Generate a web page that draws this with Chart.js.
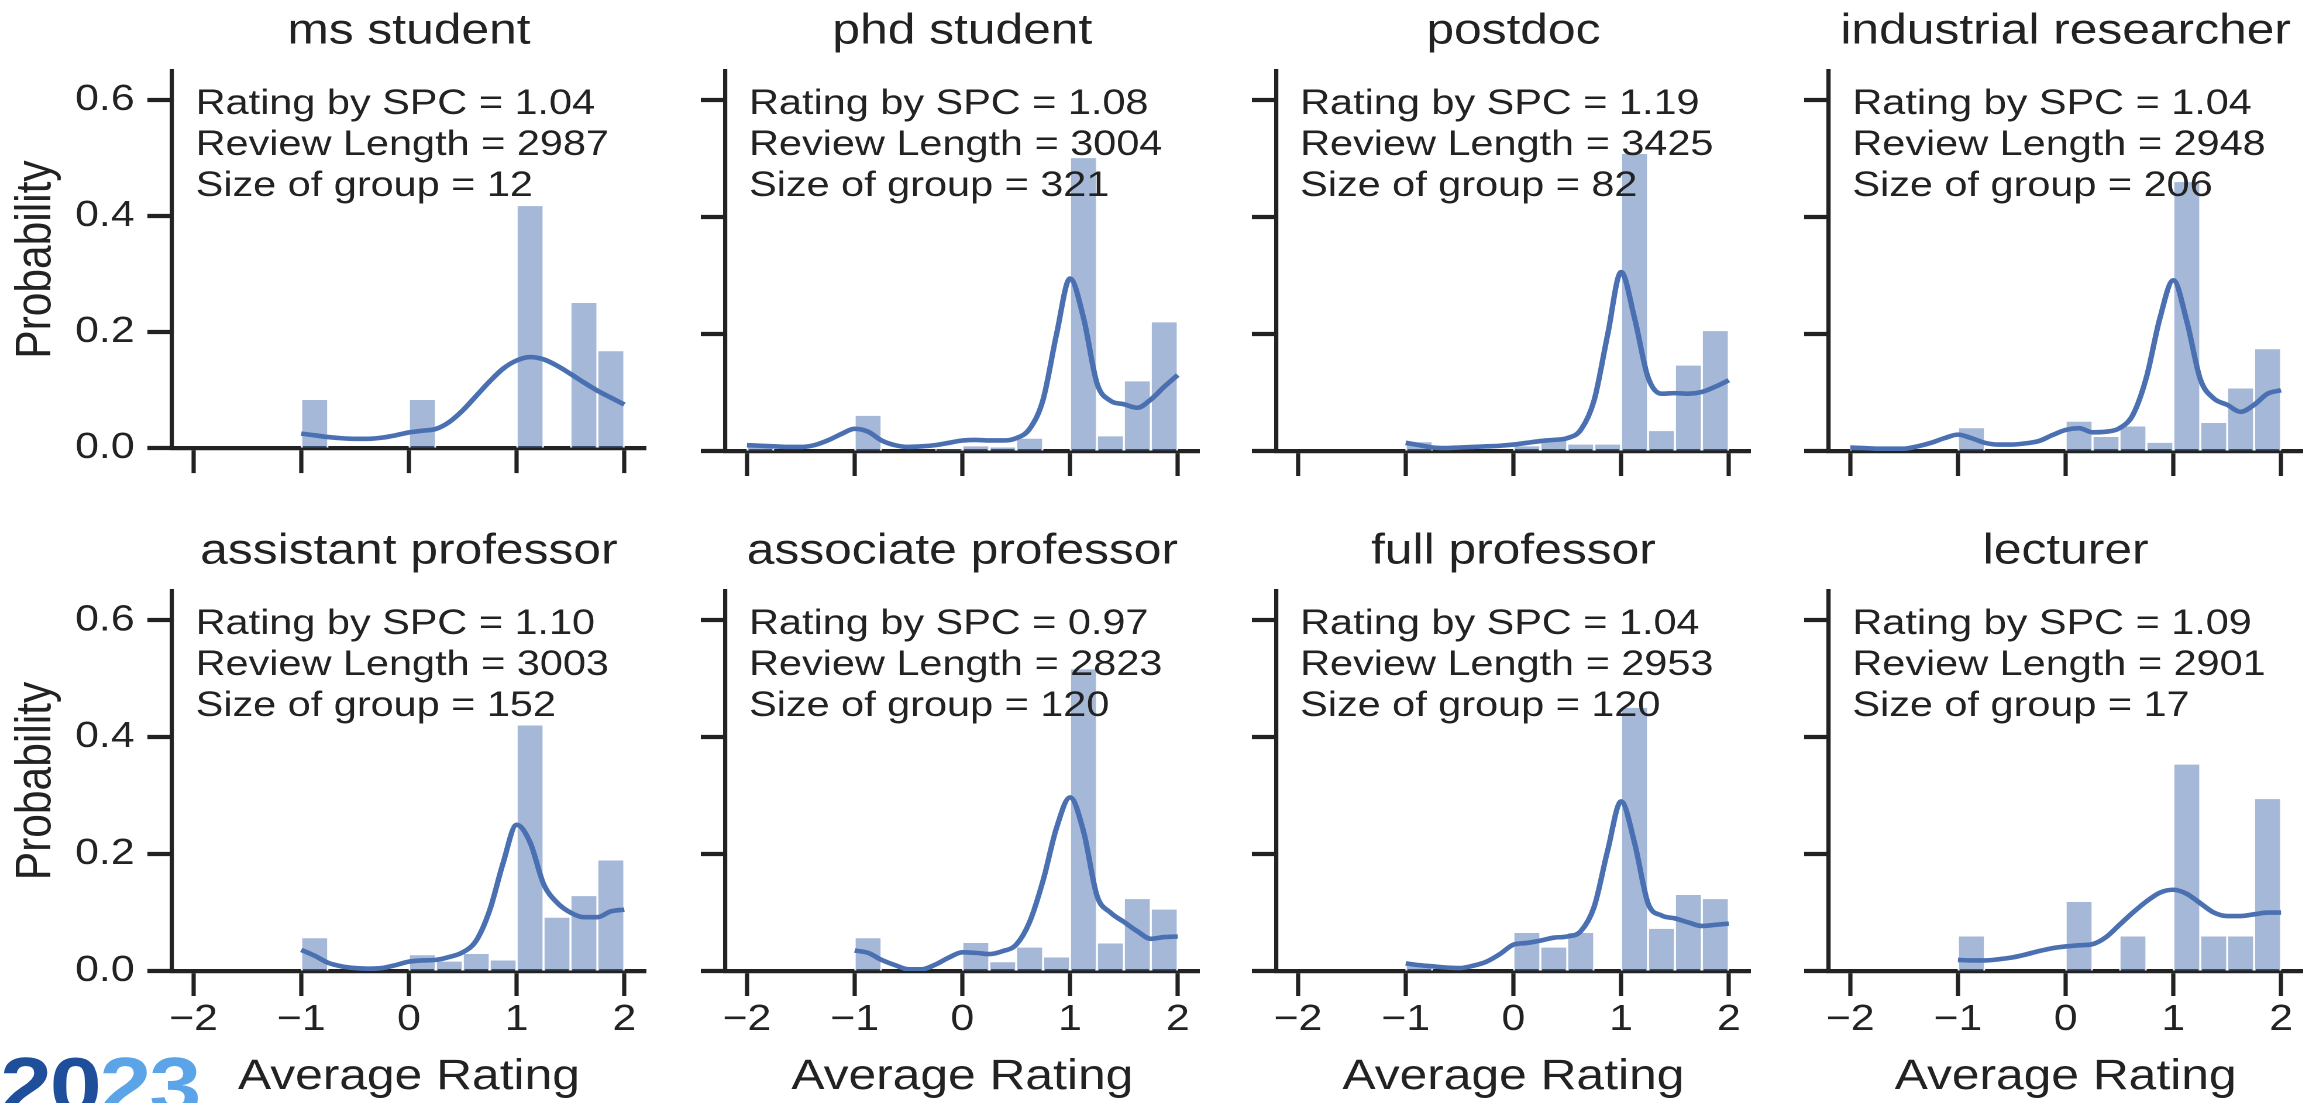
<!DOCTYPE html>
<html>
<head>
<meta charset="utf-8">
<script src="https://cdn.jsdelivr.net/npm/chart.js@4.4.1/dist/chart.umd.min.js"></script>
<style>
  html, body { margin: 0; padding: 0; background: #fff; overflow: hidden; }
  #stage { position: absolute; left: 0; top: 0; width: 1971px; height: 1103px; transform: scaleX(1.17); transform-origin: 0 0; }
  #stage canvas { position: absolute; }
  #logo { position: absolute; left: 0; top: 1046px; font: bold 80px "Liberation Sans", Arial, sans-serif; line-height: 1; letter-spacing: -2px; }
</style>
</head>
<body>
<div id="stage">
  <div id="logo"><span style="color:#1f4f9b">20</span><span style="color:#5ba4e8">23</span></div>
</div>
<script>
// panel headers and the three numbers printed in each panel
const groupNames = ['ms student', 'phd student', 'postdoc', 'industrial researcher',
                    'assistant professor', 'associate professor', 'full professor', 'lecturer'];
const ratingBySpc = ['1.04', '1.08', '1.19', '1.04', '1.10', '0.97', '1.04', '1.09'];
const reviewLength = [2987, 3004, 3425, 2948, 3003, 2823, 2953, 2901];
const groupSize = [12, 321, 82, 206, 152, 120, 120, 17];

// histogram bins, width 0.25 from -2 to 2
const binCenters = [-1.875, -1.625, -1.375, -1.125, -0.875, -0.625, -0.375, -0.125,
                    0.125, 0.375, 0.625, 0.875, 1.125, 1.375, 1.625, 1.875];

const msStudentBars  = [0, 0, 0, 0, 0.083, 0, 0, 0, 0.083, 0, 0, 0, 0.417, 0, 0.25, 0.167];
const phdStudentBars = [0.006, 0, 0, 0, 0.06, 0, 0, 0.003, 0.008, 0.006, 0.021, 0, 0.501, 0.025, 0.119, 0.22];
const postdocBars    = [0, 0, 0, 0, 0.015, 0, 0, 0, 0.008, 0.017, 0.011, 0.011, 0.508, 0.034, 0.146, 0.205];
const industrialBars = [0.005, 0, 0, 0, 0.039, 0, 0, 0, 0.05, 0.024, 0.042, 0.014, 0.46, 0.048, 0.107, 0.174];
const assistantBars  = [0, 0, 0, 0, 0.056, 0, 0, 0, 0.027, 0.016, 0.029, 0.018, 0.42, 0.091, 0.128, 0.189];
const associateBars  = [0, 0, 0, 0, 0.056, 0, 0, 0, 0.048, 0.015, 0.04, 0.023, 0.516, 0.047, 0.123, 0.105];
const fullProfBars   = [0, 0, 0, 0, 0.01, 0, 0, 0, 0.065, 0.04, 0.065, 0, 0.45, 0.072, 0.13, 0.123];
const lecturerBars   = [0, 0, 0, 0, 0.059, 0, 0, 0, 0.118, 0, 0.059, 0, 0.353, 0.059, 0.059, 0.294];

// kde curve, read every 0.125 from -2 to 2 (null where the curve is not drawn)
const kdeX = [-2, -1.875, -1.75, -1.625, -1.5, -1.375, -1.25, -1.125,
              -1, -0.875, -0.75, -0.625, -0.5, -0.375, -0.25, -0.125,
              0, 0.125, 0.25, 0.375, 0.5, 0.625, 0.75, 0.875,
              1, 1.125, 1.25, 1.375, 1.5, 1.625, 1.75, 1.875, 2];
const n8 = [null, null, null, null, null, null, null, null];

const msStudentKde = n8.concat([0.025, 0.022, 0.019, 0.017, 0.016, 0.016, 0.018, 0.022,
  0.027, 0.030, 0.033, 0.045, 0.065, 0.09, 0.115, 0.137,
  0.151, 0.157, 0.153, 0.142, 0.128, 0.113, 0.099, 0.087, 0.075]);
const phdStudentKde = [0.010, 0.009, 0.008, 0.007, 0.007, 0.010, 0.018, 0.029,
  0.038, 0.033, 0.018, 0.010, 0.007, 0.008, 0.010, 0.014,
  0.018, 0.019, 0.018, 0.018, 0.022, 0.038, 0.088, 0.2,
  0.295, 0.228, 0.116, 0.086, 0.08, 0.074, 0.088, 0.11, 0.13];
const postdocKde = n8.concat([0.014, 0.01, 0.006, 0.005, 0.006, 0.007, 0.008, 0.009,
  0.011, 0.014, 0.017, 0.019, 0.022, 0.036, 0.087, 0.199,
  0.306, 0.227, 0.126, 0.098, 0.099, 0.098, 0.101, 0.11, 0.121]);
const industrialKde = [0.006, 0.005, 0.004, 0.004, 0.004, 0.008, 0.014, 0.022,
  0.028, 0.022, 0.014, 0.011, 0.011, 0.013, 0.017, 0.027,
  0.036, 0.039, 0.032, 0.033, 0.039, 0.062, 0.126, 0.227,
  0.292, 0.222, 0.123, 0.09, 0.079, 0.067, 0.079, 0.098, 0.104];
const assistantKde = n8.concat([0.036, 0.026, 0.014, 0.008, 0.005, 0.004, 0.005, 0.01,
  0.016, 0.018, 0.019, 0.024, 0.032, 0.052, 0.104, 0.185,
  0.25, 0.22, 0.149, 0.117, 0.1, 0.092, 0.092, 0.102, 0.105]);
const associateKde = n8.concat([0.035, 0.031, 0.019, 0.01, 0.003, 0.003, 0.011, 0.023,
  0.032, 0.031, 0.029, 0.034, 0.045, 0.084, 0.155, 0.245,
  0.297, 0.239, 0.129, 0.1, 0.084, 0.068, 0.055, 0.058, 0.059]);
const fullProfKde = n8.concat([0.013, 0.01, 0.008, 0.006, 0.005, 0.009, 0.016, 0.029,
  0.045, 0.048, 0.052, 0.057, 0.059, 0.068, 0.11, 0.206,
  0.29, 0.219, 0.116, 0.095, 0.09, 0.083, 0.077, 0.079, 0.081]);
const lecturerKde = n8.concat([0.019, 0.018, 0.018, 0.02, 0.023, 0.028, 0.034, 0.039,
  0.042, 0.044, 0.046, 0.058, 0.079, 0.1, 0.119, 0.134,
  0.139, 0.132, 0.116, 0.1, 0.094, 0.094, 0.097, 0.1, 0.1]);

const barValues = [msStudentBars, phdStudentBars, postdocBars, industrialBars,
                   assistantBars, associateBars, fullProfBars, lecturerBars];
const kdeValues = [msStudentKde, phdStudentKde, postdocKde, industrialKde,
                   assistantKde, associateKde, fullProfKde, lecturerKde];

// layout: the reference is stretched sideways, so the stage is drawn narrow and scaled by S
const S = 1.17;
const plotLeftFull = [172, 725, 1277, 1829];
const rowTop = [0, 520];
const yAxisW = 147, plotW = 405, titleH = 71, plotH = 380;
const xAxisH = [30, 132];
const ink = '#222222';
const family = '"Liberation Sans", Arial, Helvetica, sans-serif';

const minus = v => v < 0 ? '\u2212' + Math.abs(v) : String(v);

const statsText = {
  id: 'statsText',
  afterDraw(chart, args, opts) {
    const {ctx, chartArea} = chart;
    ctx.save();
    ctx.font = '35.4px ' + family;
    ctx.fillStyle = ink;
    ctx.textAlign = 'left';
    ctx.textBaseline = 'middle';
    const x = chartArea.left + 0.05 * (chartArea.right - chartArea.left);
    opts.lines.forEach((t, k) => ctx.fillText(t, x, chartArea.top + 33 + k * 41));
    ctx.restore();
  }
};

const stage = document.getElementById('stage');

for (let i = 0; i < 8; i++) {
  const row = Math.floor(i / 4), col = i % 4;
  const w = yAxisW + plotW + 5;
  const h = titleH + plotH + xAxisH[row];
  const canvas = document.createElement('canvas');
  canvas.width = w;
  canvas.height = h;
  canvas.style.left = (plotLeftFull[col] / S - yAxisW) + 'px';
  canvas.style.top = rowTop[row] + 'px';
  stage.appendChild(canvas);

  new Chart(canvas, {
    type: 'bar',
    data: {
      datasets: [{
        type: 'line',
        data: kdeX.map((x, k) => ({x: x, y: kdeValues[i][k]})).filter(p => p.y !== null),
        borderColor: '#4a70b2',
        borderWidth: 4.6,
        pointRadius: 0,
        cubicInterpolationMode: 'monotone',
        order: 0
      }, {
        type: 'bar',
        data: binCenters.map((x, k) => ({x: x, y: barValues[i][k]})),
        backgroundColor: 'rgba(76, 114, 176, 0.5)',
        borderColor: '#ffffff',
        borderWidth: {left: 1.2, right: 1.2, top: 0, bottom: 0},
        barPercentage: 1,
        categoryPercentage: 1,
        order: 1
      }]
    },
    plugins: [statsText],
    options: {
      responsive: false,
      animation: false,
      devicePixelRatio: 2,
      layout: {padding: {left: 0, right: w - yAxisW - plotW, top: 0, bottom: 0}},
      plugins: {
        legend: {display: false},
        tooltip: {enabled: false},
        title: {
          display: true,
          text: groupNames[i],
          fullSize: false,
          color: ink,
          font: {family: family, size: 42.5, weight: 'normal', lineHeight: 1.2},
          padding: {top: 6.5, bottom: 13.5}
        },
        statsText: {
          lines: ['Rating by SPC = ' + ratingBySpc[i],
                  'Review Length = ' + reviewLength[i],
                  'Size of group = ' + groupSize[i]]
        }
      },
      scales: {
        x: {
          type: 'linear',
          min: -2.2,
          max: 2.2,
          offset: false,
          grid: {drawOnChartArea: false, drawTicks: true, tickLength: 25, tickWidth: 3.6, tickColor: ink, offset: false},
          border: {display: true, color: ink, width: 4.2},
          ticks: {
            display: row === 1,
            stepSize: 1,
            includeBounds: false,
            autoSkip: false,
            maxRotation: 0,
            color: ink,
            font: {family: family, size: 36.5},
            padding: 2,
            callback: minus
          },
          title: {
            display: row === 1,
            text: 'Average Rating',
            color: ink,
            font: {family: family, size: 42.5, lineHeight: 1.2},
            padding: {top: 0, bottom: 0}
          },
          afterFit: s => { s.height = xAxisH[row]; }
        },
        y: {
          min: 0,
          max: 0.65,
          grid: {drawOnChartArea: false, drawTicks: true, tickLength: 21, tickWidth: 4.2, tickColor: ink},
          border: {display: true, color: ink, width: 3.6},
          ticks: {
            display: col === 0,
            stepSize: 0.2,
            includeBounds: false,
            color: ink,
            font: {family: family, size: 36.5},
            padding: 11,
            callback: v => v.toFixed(1)
          },
          title: {
            display: col === 0,
            text: 'Probability',
            color: ink,
            font: {family: family, size: 42.5, lineHeight: 1.2},
            padding: {top: 6, bottom: 0}
          },
          afterFit: s => { s.width = yAxisW; }
        }
      }
    }
  });
}
</script>
</body>
</html>
